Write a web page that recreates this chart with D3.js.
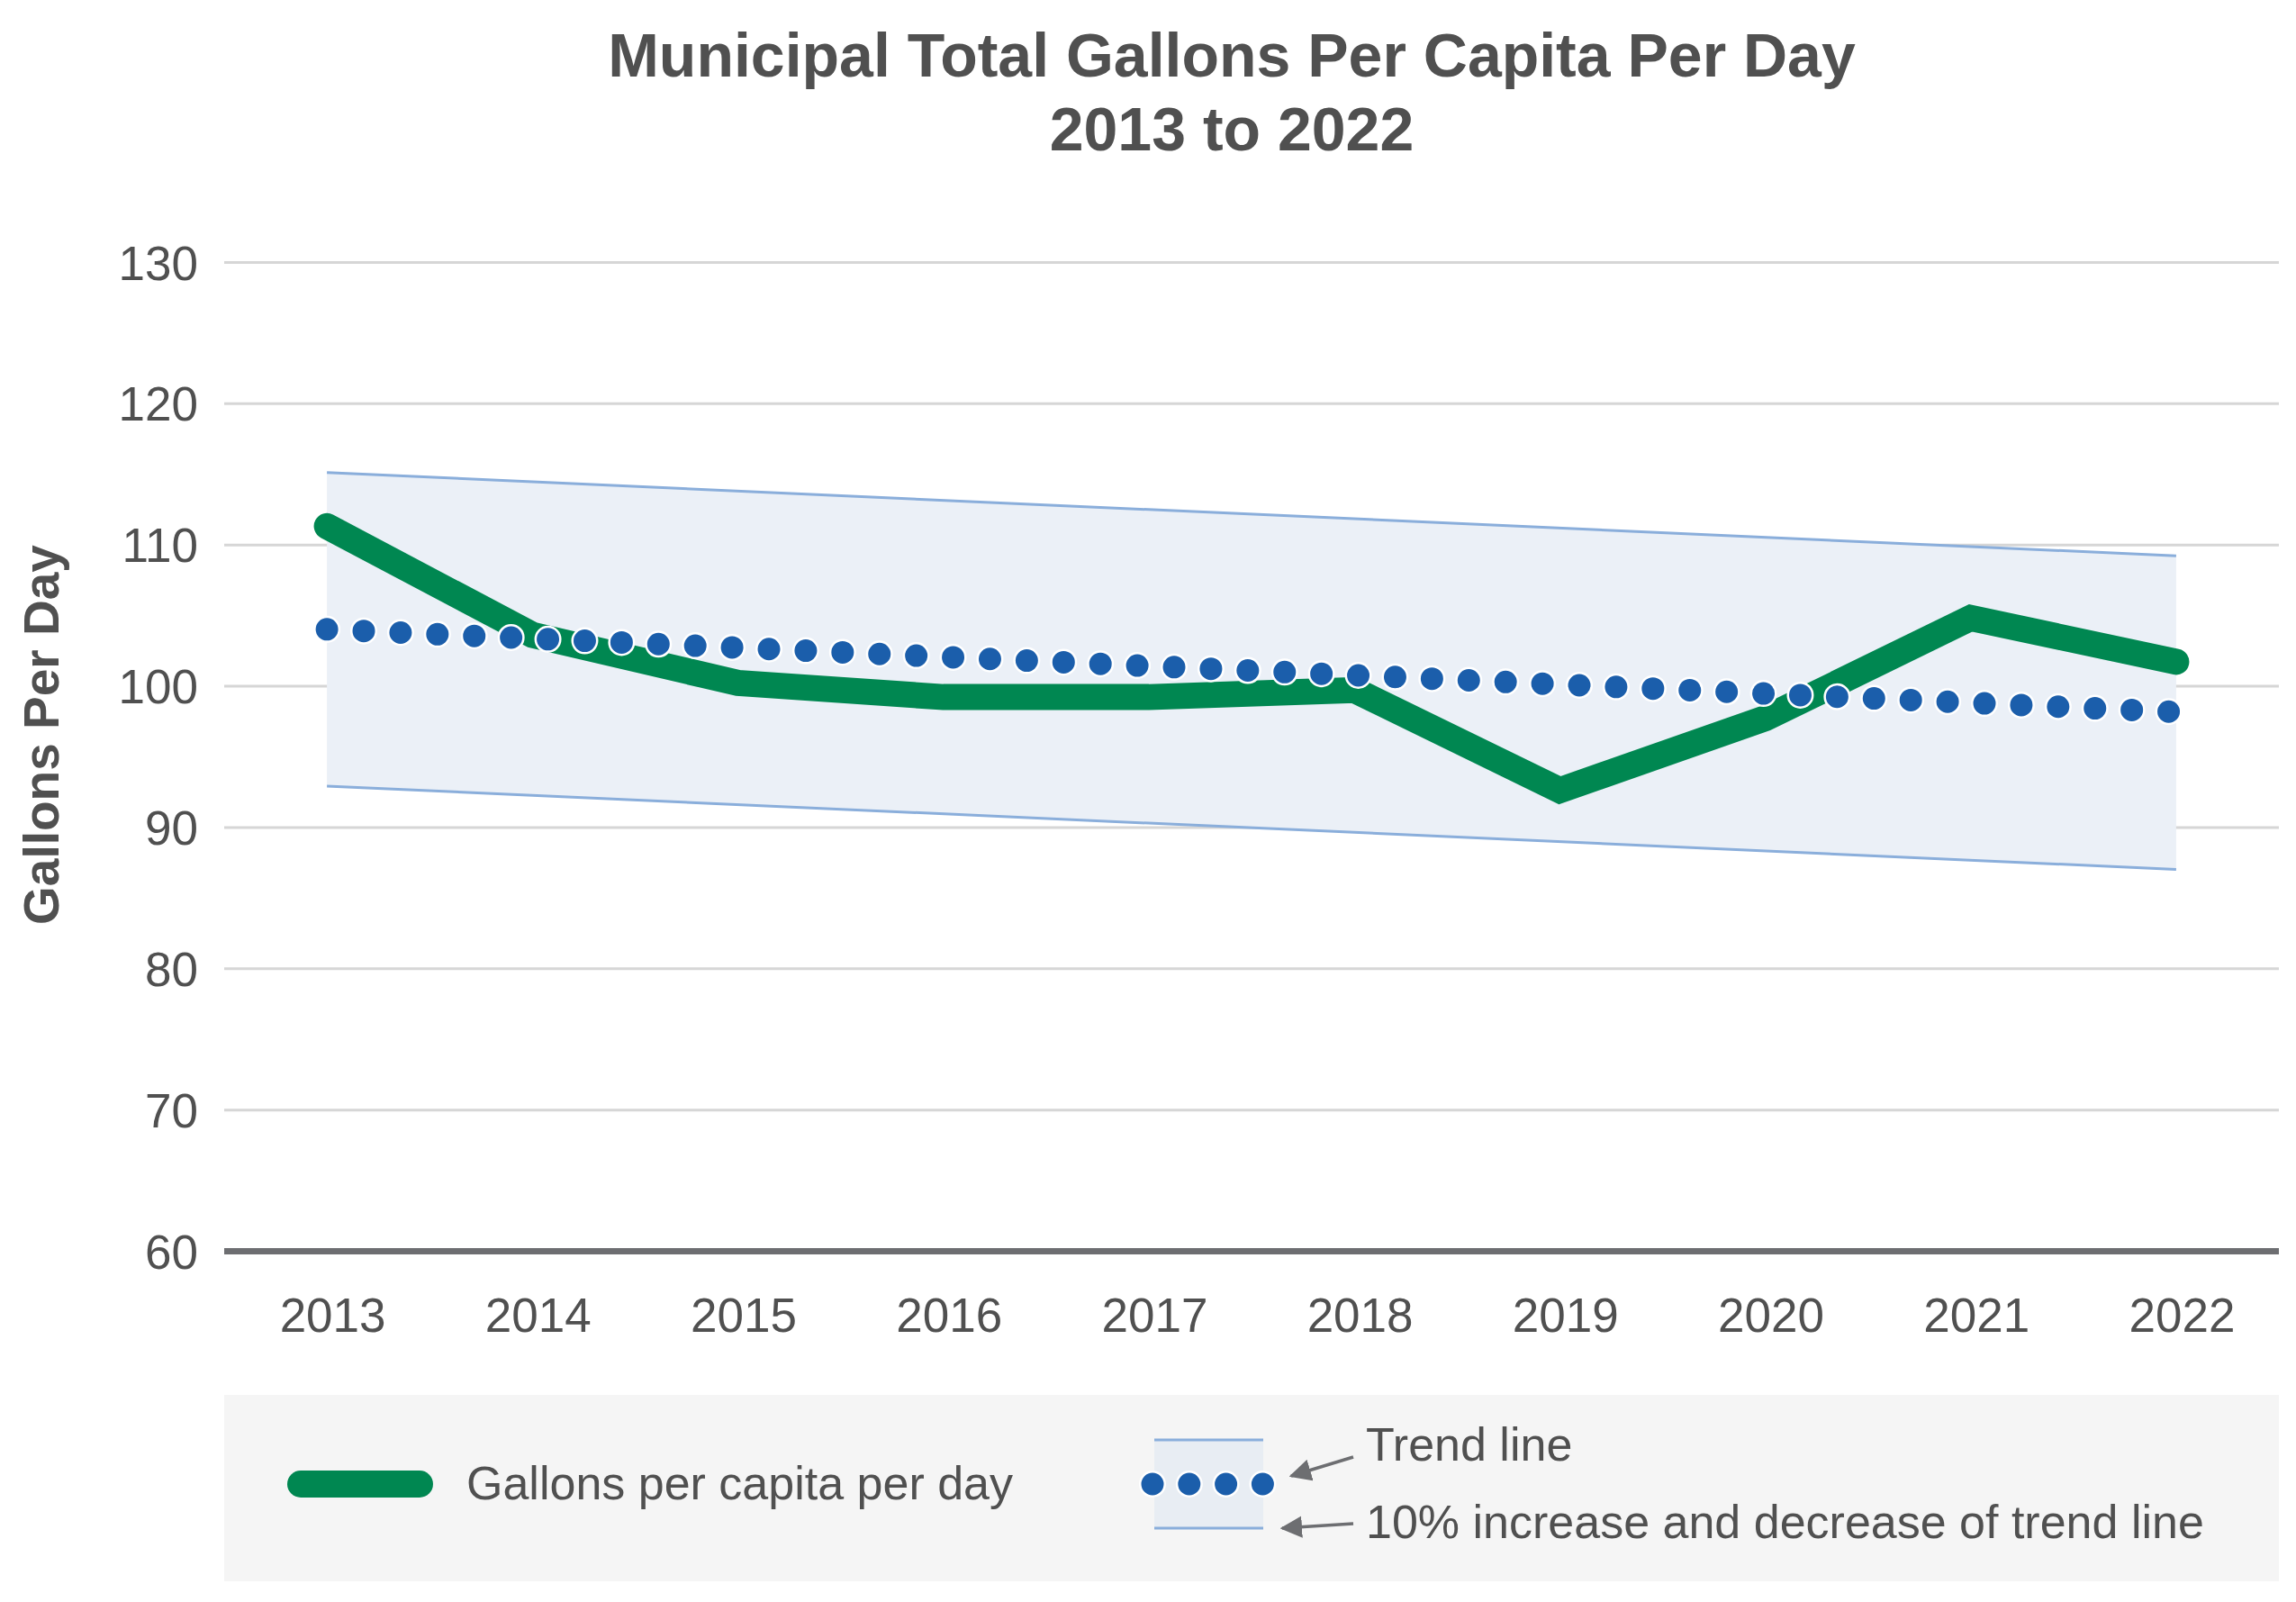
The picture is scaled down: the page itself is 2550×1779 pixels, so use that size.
<!DOCTYPE html>
<html>
<head>
<meta charset="utf-8">
<script src="https://cdn.jsdelivr.net/npm/d3@7"></script>
<style>
  body { margin: 0; background: #fff; }
  svg { display: block; font-family: "Liberation Sans", Arial, sans-serif; }
</style>
</head>
<body>
<div id="chart"></div>
<script>
const years = [2013, 2014, 2015, 2016, 2017, 2018, 2019, 2020, 2021, 2022];
const gpcd = [111.3, 103.6, 100.2, 99.2, 99.2, 99.7, 92.6, 97.7, 104.8, 101.7];
// trend line and its +/- band, read at the first and last year
const trendYears = [2013, 2022];
const trendVals = [104.0, 98.15];
const upperVals = [115.1, 109.2];
const lowerVals = [92.9, 87.0];
const yTicks = [60, 70, 80, 90, 100, 110, 120, 130];

const W = 2550, H = 1779;
const plotLeft = 249, plotRight = 2531, plotTop = 291, plotBottom = 1389;
const textColor = "#505050";

const svg = d3.select("#chart")
  .append("svg")
  .attr("width", W)
  .attr("height", H);

const x = d3.scalePoint()
  .domain(years)
  .range([plotLeft, plotRight])
  .padding(0.5);

const y = d3.scaleLinear()
  .domain([60, 130])
  .range([plotBottom, plotTop]);

// title
const title = svg.append("text")
  .attr("text-anchor", "middle")
  .attr("font-size", 68)
  .attr("font-weight", "bold")
  .attr("fill", textColor);
title.append("tspan").attr("x", 1368).attr("y", 85).text("Municipal Total Gallons Per Capita Per Day");
title.append("tspan").attr("x", 1368).attr("y", 167).text("2013 to 2022");

// y axis with gridlines
const yAxis = svg.append("g")
  .attr("transform", `translate(${plotLeft},0)`)
  .call(d3.axisLeft(y).tickValues(yTicks).tickSize(-(plotRight - plotLeft)).tickPadding(29));
yAxis.select(".domain").remove();
yAxis.selectAll(".tick line")
  .attr("stroke", d => d === 60 ? "#6d6e71" : "#d6d6d6")
  .attr("stroke-width", d => d === 60 ? 7 : 3);
yAxis.selectAll(".tick text")
  .attr("font-size", 53)
  .attr("fill", textColor)
  .attr("font-family", "Liberation Sans, Arial, sans-serif")
  .attr("dy", "0.36em");

svg.append("text")
  .attr("transform", "translate(65,816) rotate(-90)")
  .attr("text-anchor", "middle")
  .attr("font-size", 55)
  .attr("font-weight", "bold")
  .attr("fill", textColor)
  .text("Gallons Per Day");

// x axis labels
const xAxis = svg.append("g")
  .attr("transform", `translate(0,${plotBottom})`)
  .call(d3.axisBottom(x).tickSize(0).tickPadding(0));
xAxis.select(".domain").remove();
xAxis.selectAll(".tick text")
  .attr("font-size", 53)
  .attr("fill", textColor)
  .attr("font-family", "Liberation Sans, Arial, sans-serif")
  .attr("dx", 6)
  .attr("dy", 0)
  .attr("y", 90);

// band
const bandData = trendYears.map((yr, i) => ({ year: yr, lo: lowerVals[i], hi: upperVals[i] }));

svg.append("path")
  .datum(bandData)
  .attr("fill", "#ebf0f7")
  .attr("d", d3.area().x(d => x(d.year)).y0(d => y(d.lo)).y1(d => y(d.hi)));

const edge = key => d3.line().x(d => x(d.year)).y(d => y(d[key]));
["hi", "lo"].forEach(k => {
  svg.append("path")
    .datum(bandData)
    .attr("fill", "none")
    .attr("stroke", "#8aaedb")
    .attr("stroke-width", 3)
    .attr("d", edge(k));
});

// main series
const series = years.map((yr, i) => ({ year: yr, value: gpcd[i] }));
svg.append("path")
  .datum(series)
  .attr("fill", "none")
  .attr("stroke", "#008751")
  .attr("stroke-width", 29)
  .attr("stroke-linecap", "round")
  .attr("stroke-linejoin", "miter")
  .attr("d", d3.line().x(d => x(d.year)).y(d => y(d.value)));

// dotted trend line (white halo under blue dots)
const trendData = trendYears.map((yr, i) => ({ year: yr, value: trendVals[i] }));
const trendLine = d3.line().x(d => x(d.year)).y(d => y(d.value));
[["#ffffff", 30], ["#1b5eab", 25]].forEach(([c, w]) => {
  svg.append("path")
    .datum(trendData)
    .attr("fill", "none")
    .attr("stroke", c)
    .attr("stroke-width", w)
    .attr("stroke-linecap", "round")
    .attr("stroke-dasharray", "0 40.95")
    .attr("d", trendLine);
});

// legend
const legend = svg.append("g");
legend.append("rect")
  .attr("x", plotLeft)
  .attr("y", 1549)
  .attr("width", plotRight - plotLeft)
  .attr("height", 207)
  .attr("fill", "#f5f5f5");

legend.append("line")
  .attr("x1", 334).attr("x2", 466)
  .attr("y1", 1648).attr("y2", 1648)
  .attr("stroke", "#008751")
  .attr("stroke-width", 30)
  .attr("stroke-linecap", "round");

legend.append("text")
  .attr("x", 518).attr("y", 1665)
  .attr("font-size", 52)
  .attr("fill", textColor)
  .text("Gallons per capita per day");

legend.append("rect")
  .attr("x", 1282).attr("y", 1599)
  .attr("width", 121).attr("height", 98)
  .attr("fill", "#e8edf3");
[1599, 1697].forEach(yy => {
  legend.append("line")
    .attr("x1", 1282).attr("x2", 1403)
    .attr("y1", yy).attr("y2", yy)
    .attr("stroke", "#8aaedb")
    .attr("stroke-width", 3);
});
[["#ffffff", 30], ["#1b5eab", 25]].forEach(([c, w]) => {
  legend.append("line")
    .attr("x1", 1280).attr("x2", 1403)
    .attr("y1", 1648).attr("y2", 1648)
    .attr("stroke", c)
    .attr("stroke-width", w)
    .attr("stroke-linecap", "round")
    .attr("stroke-dasharray", "0 40.8");
});

svg.append("defs").append("marker")
  .attr("id", "arrow")
  .attr("viewBox", "0 0 10 10")
  .attr("refX", 9).attr("refY", 5)
  .attr("markerWidth", 7).attr("markerHeight", 7)
  .attr("markerUnits", "strokeWidth")
  .attr("orient", "auto")
  .append("path")
  .attr("d", "M0,0 L10,5 L0,10 Z")
  .attr("fill", "#6d6e71");

[[1503, 1618, 1434, 1639], [1503, 1692, 1424, 1697]].forEach(([x1, y1, x2, y2]) => {
  legend.append("line")
    .attr("x1", x1).attr("y1", y1)
    .attr("x2", x2).attr("y2", y2)
    .attr("stroke", "#6d6e71")
    .attr("stroke-width", 3.5)
    .attr("marker-end", "url(#arrow)");
});

legend.append("text")
  .attr("x", 1517).attr("y", 1622)
  .attr("font-size", 52)
  .attr("fill", textColor)
  .text("Trend line");

legend.append("text")
  .attr("x", 1517).attr("y", 1708)
  .attr("font-size", 52)
  .attr("fill", textColor)
  .text("10% increase and decrease of trend line");
</script>
</body>
</html>
